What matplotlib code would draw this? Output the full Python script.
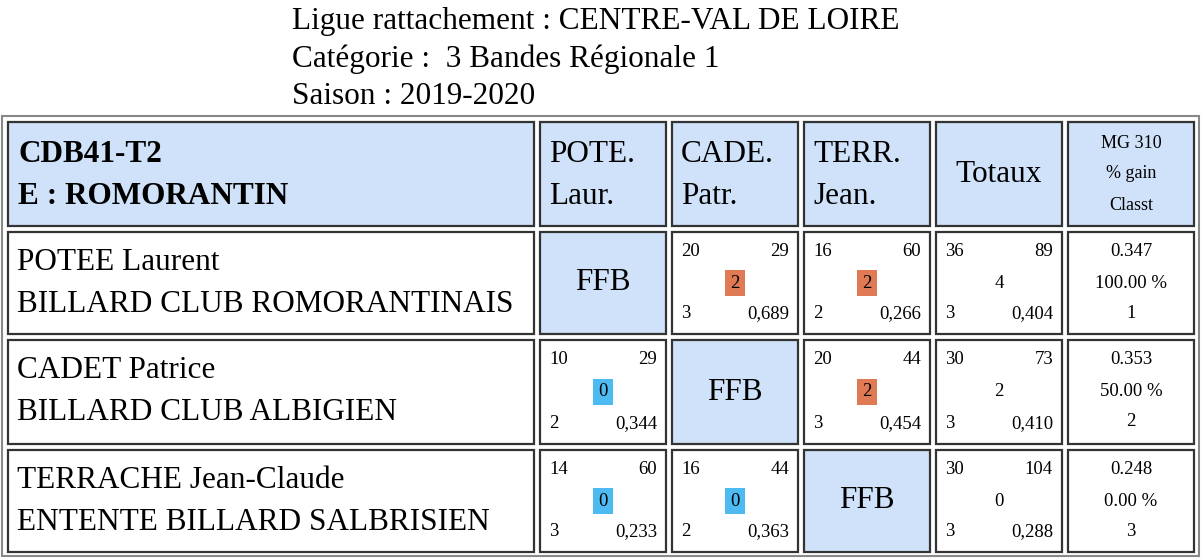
import matplotlib
matplotlib.use("Agg")
import matplotlib.pyplot as plt
from matplotlib.patches import Rectangle

titles = ["Ligue rattachement : CENTRE-VAL DE LOIRE", "Catégorie :  3 Bandes Régionale 1", "Saison : 2019-2020"]
team = ["CDB41-T2", "E : ROMORANTIN"]
col_heads = [["POTE.", "Laur."], ["CADE.", "Patr."], ["TERR.", "Jean."]]
players = ["POTEE Laurent", "CADET Patrice", "TERRACHE Jean-Claude"]
clubs = ["BILLARD CLUB ROMORANTINAIS", "BILLARD CLUB ALBIGIEN", "ENTENTE BILLARD SALBRISIEN"]
# match cells: (points, reprises, score, manches, moyenne) ; None = FFB
matches = [
    [None, (20, 29, 2, 3, "0,689"), (16, 60, 2, 2, "0,266")],
    [(10, 29, 0, 2, "0,344"), None, (20, 44, 2, 3, "0,454")],
    [(14, 60, 0, 3, "0,233"), (16, 44, 0, 2, "0,363"), None],
]
totals = [(36, 89, 4, 3, "0,404"), (30, 73, 2, 3, "0,410"), (30, 104, 0, 3, "0,288")]
mg = ["0.347", "0.353", "0.248"]
gain = ["100.00 %", "50.00 %", "0.00 %"]
classt = ["1", "2", "3"]

BLUE = "#cfe2f9"
ORANGE = "#e07a55"
LBLUE = "#4dbbf2"
F = "Liberation Serif"
BIG = 22.5
SM = 13.5

fig = plt.figure(figsize=(12.01, 5.6), dpi=100)
ax = fig.add_axes([0, 0, 1, 1])
ax.set_xlim(0, 1201); ax.set_ylim(560, 0); ax.axis("off")

for i, t in enumerate(titles):
    ax.text(292, 22 + i * 37.5, t, fontsize=BIG, family=F, va="center", ha="left")

ax.add_patch(Rectangle((2, 116), 1197, 440, fill=False, ec="#888888", lw=1.5))
cols = [(8, 534), (540, 666), (672, 798), (804, 930), (936, 1062), (1068, 1194)]
rows = [(122, 226), (232, 334), (340, 444), (450, 552)]

def cell(c, r, fill="white"):
    x0, x1 = cols[c]; y0, y1 = rows[r]
    ax.add_patch(Rectangle((x0, y0), x1 - x0, y1 - y0, fc=fill, ec="#333333", lw=1.6))
    return x0, x1, y0, y1

# header
x0, x1, y0, y1 = cell(0, 0, BLUE)
ax.text(x0 + 10, y0 + 32, team[0], fontsize=BIG, family=F, weight="bold", va="center")
ax.text(x0 + 10, y0 + 74, team[1], fontsize=BIG, family=F, weight="bold", va="center")
for k, h in enumerate(col_heads):
    x0, x1, y0, y1 = cell(k + 1, 0, BLUE)
    ax.text(x0 + 9, y0 + 32, h[0], fontsize=BIG, family=F, va="center")
    ax.text(x0 + 9, y0 + 74, h[1], fontsize=BIG, family=F, va="center")
x0, x1, y0, y1 = cell(4, 0, BLUE)
ax.text((x0 + x1) / 2, (y0 + y1) / 2, "Totaux", fontsize=BIG, family=F, ha="center", va="center")
x0, x1, y0, y1 = cell(5, 0, BLUE)
for j, t in enumerate(["MG 310", "% gain", "Classt"]):
    ax.text((x0 + x1) / 2, y0 + 21 + j * 31, t, fontsize=SM - 0.5, family=F, ha="center", va="center")

def small(x0, x1, y0, y1, d, badge=True):
    p, rep, s, m, moy = d
    ax.text(x0 + 9, y0 + 20, str(p), fontsize=SM, family=F, va="center")
    ax.text(x1 - 9, y0 + 20, str(rep), fontsize=SM, family=F, va="center", ha="right")
    ax.text(x0 + 9, y1 - 20, str(m), fontsize=SM, family=F, va="center")
    ax.text(x1 - 9, y1 - 20, moy, fontsize=SM, family=F, va="center", ha="right")
    cx, cy = (x0 + x1) / 2, (y0 + y1) / 2
    if badge:
        ax.add_patch(Rectangle((cx - 10, cy - 13), 20, 26, fc=ORANGE if s > 0 else LBLUE, ec="none"))
    ax.text(cx, cy, str(s), fontsize=SM, family=F, ha="center", va="center")

for r in range(3):
    x0, x1, y0, y1 = cell(0, r + 1)
    ax.text(x0 + 9, y0 + 30, players[r], fontsize=BIG, family=F, va="center")
    ax.text(x0 + 9, y0 + 73, clubs[r], fontsize=BIG, family=F, va="center")
    for c in range(3):
        d = matches[r][c]
        if d is None:
            x0, x1, y0, y1 = cell(c + 1, r + 1, BLUE)
            ax.text((x0 + x1) / 2, (y0 + y1) / 2, "FFB", fontsize=BIG, family=F, ha="center", va="center")
        else:
            x0, x1, y0, y1 = cell(c + 1, r + 1)
            small(x0, x1, y0, y1, d)
    x0, x1, y0, y1 = cell(4, r + 1)
    small(x0, x1, y0, y1, totals[r], badge=False)
    x0, x1, y0, y1 = cell(5, r + 1)
    for j, t in enumerate([mg[r], gain[r], classt[r]]):
        ax.text((x0 + x1) / 2, y0 + 20 + j * 31, t, fontsize=SM, family=F, ha="center", va="center")

fig.savefig("out.png", dpi=100)
